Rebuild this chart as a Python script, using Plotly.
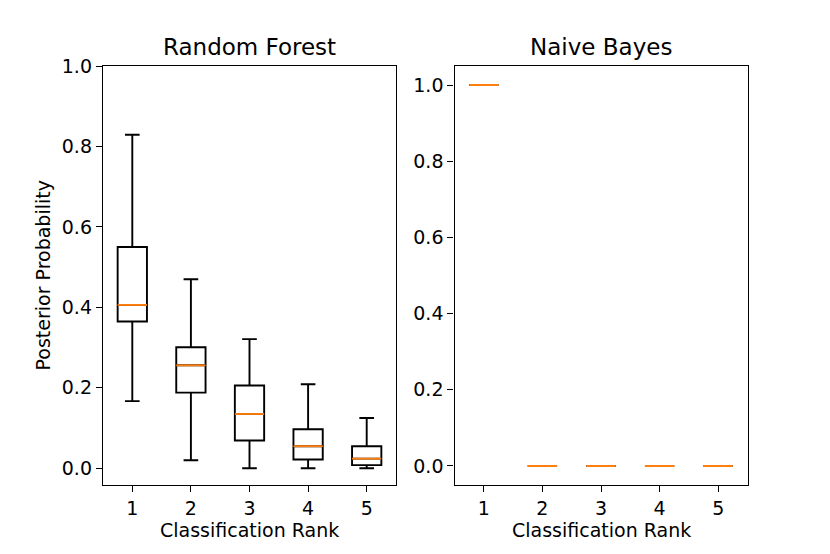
import plotly.graph_objects as go

ranks = [1, 2, 3, 4, 5]

# Random Forest box statistics
rf_upper = [0.829, 0.470, 0.321, 0.209, 0.125]
rf_q3 = [0.550, 0.301, 0.206, 0.097, 0.055]
rf_median = [0.406, 0.256, 0.135, 0.055, 0.024]
rf_q1 = [0.365, 0.188, 0.069, 0.022, 0.008]
rf_lower = [0.167, 0.020, 0.000, 0.000, 0.000]

# Naive Bayes box statistics (all degenerate)
nb_upper = [1.0, 0.0, 0.0, 0.0, 0.0]
nb_q3 = [1.0, 0.0, 0.0, 0.0, 0.0]
nb_median = [1.0, 0.0, 0.0, 0.0, 0.0]
nb_q1 = [1.0, 0.0, 0.0, 0.0, 0.0]
nb_lower = [1.0, 0.0, 0.0, 0.0, 0.0]

tick_labels = ["1", "2", "3", "4", "5"]
titles = ["Random Forest", "Naive Bayes"]
x_label = "Classification Rank"
y_label = "Posterior Probability"

BOX_W = 0.5
FONT = "DejaVu Sans"
ORANGE = "#ff7f0e"

fig = go.Figure()


def add_panel(xa, ya, q1, med, q3, lo, hi):
    fig.add_trace(go.Box(
        x=ranks, q1=q1, median=med, q3=q3, lowerfence=lo, upperfence=hi,
        width=BOX_W, whiskerwidth=0.5, boxpoints=False,
        line=dict(color="black", width=1.9), fillcolor="rgba(255,255,255,0)",
        xaxis=xa, yaxis=ya, showlegend=False, hoverinfo="skip",
    ))
    mx, my = [], []
    for r, m in zip(ranks, med):
        mx += [r - BOX_W / 2, r + BOX_W / 2, None]
        my += [m, m, None]
    fig.add_trace(go.Scatter(
        x=mx, y=my, mode="lines", line=dict(color=ORANGE, width=1.9),
        xaxis=xa, yaxis=ya, showlegend=False, hoverinfo="skip",
    ))


add_panel("x", "y", rf_q1, rf_median, rf_q3, rf_lower, rf_upper)
add_panel("x2", "y2", nb_q1, nb_median, nb_q3, nb_lower, nb_upper)

# page body has an 8px margin; work in screen pixels and shift
OFF = 8
W, H = 830 - OFF, 554 - OFF


def px(x):
    return (x - OFF) / W


def py(y):
    return 1 - (y - OFF) / H


axis_common = dict(
    showline=True, mirror=True, linecolor="black", linewidth=1.4,
    ticks="outside", ticklen=6, tickwidth=1.4, tickcolor="black",
    showgrid=False, zeroline=False, automargin=False,
    tickfont=dict(family=FONT, size=19, color="black"),
)

fig.update_layout(
    width=W, height=H,
    margin=dict(l=0, r=0, t=0, b=0),
    paper_bgcolor="white", plot_bgcolor="white",
    font=dict(family=FONT, size=19, color="black"),
    xaxis=dict(domain=[px(103), px(396)], range=[0.5, 5.5], tickvals=ranks,
               ticktext=tick_labels, anchor="y", **axis_common),
    yaxis=dict(domain=[py(485), py(66)], range=[-0.0415, 1.0],
               tickvals=[0, 0.2, 0.4, 0.6, 0.8, 1.0], tickformat=".1f",
               anchor="x", **axis_common),
    xaxis2=dict(domain=[px(454.5), px(747.5)], range=[0.5, 5.5], tickvals=ranks,
                ticktext=tick_labels, anchor="y2", **axis_common),
    yaxis2=dict(domain=[py(485), py(66)], range=[-0.05, 1.05],
                tickvals=[0, 0.2, 0.4, 0.6, 0.8, 1.0], tickformat=".1f",
                anchor="x2", **axis_common),
)

annotations = [
    dict(text=titles[0], x=px((103 + 396) / 2), y=py(47)),
    dict(text=titles[1], x=px((454.5 + 747.5) / 2), y=py(47)),
    dict(text=x_label, x=px((103 + 396) / 2), y=py(530)),
    dict(text=x_label, x=px((454.5 + 747.5) / 2), y=py(530)),
]
for i, a in enumerate(annotations):
    fig.add_annotation(xref="paper", yref="paper", xanchor="center", yanchor="middle",
                       showarrow=False, text=a["text"], x=a["x"], y=a["y"],
                       font=dict(family=FONT, size=23 if i < 2 else 19, color="black"))
fig.add_annotation(xref="paper", yref="paper", xanchor="center", yanchor="middle",
                   showarrow=False, text=y_label, textangle=-90,
                   x=px(42), y=py((66 + 485) / 2),
                   font=dict(family=FONT, size=19, color="black"))

fig.write_html("out.html")
